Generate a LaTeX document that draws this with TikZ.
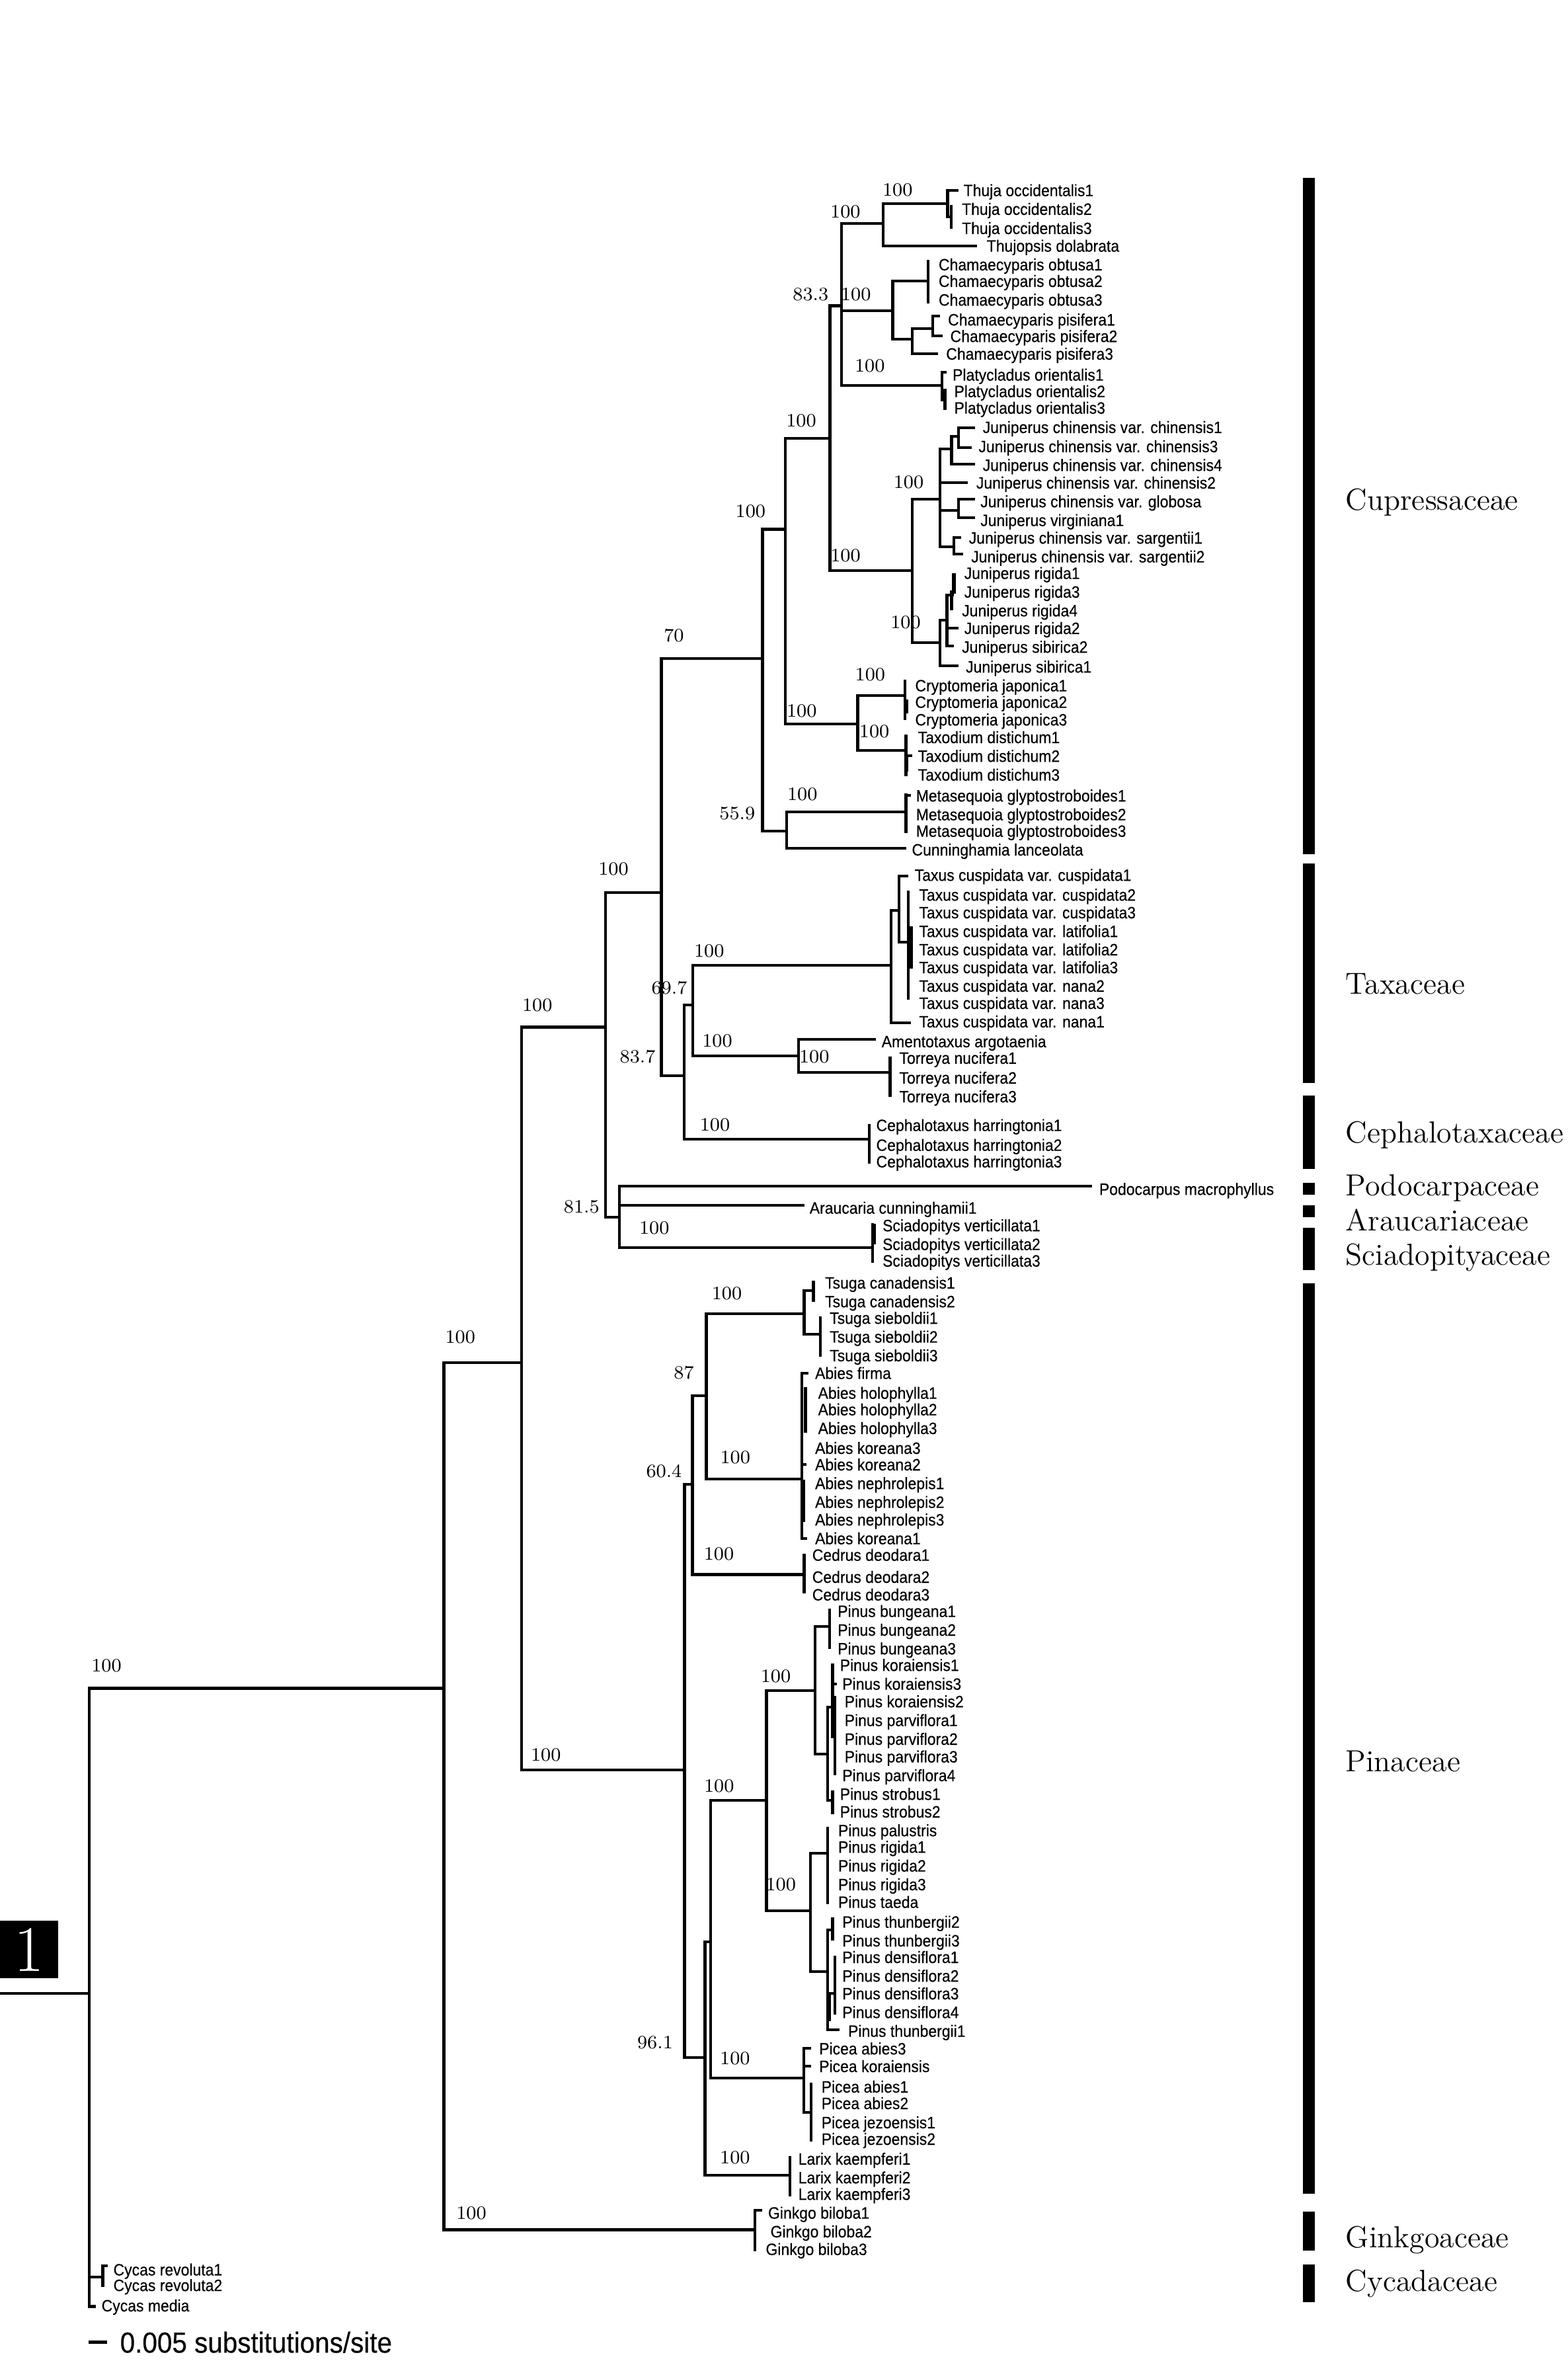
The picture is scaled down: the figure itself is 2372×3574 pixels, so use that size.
\documentclass[tikz,border=0pt]{standalone}
\usepackage{fontspec}
\newfontfamily\taxfont[FakeStretch=0.92,FakeBold=0.3]{Liberation Sans}
\newcommand\tx[3]{\node[taxon] (#1) at (#2) {#3};}
\newcommand\bsl[3]{\node[bs] (#1) at (#2) {#3};}
\begin{document}
\begin{tikzpicture}[x=0.01cm,y=-0.01cm,
  br/.style={line width=1.22pt, line cap=rect},
  thk/.style={line width=1.6pt},
  taxon/.style={anchor=west, inner sep=0pt, font=\taxfont\fontsize{7.1}{8}\selectfont, text height=5.1pt, text depth=0pt},
  bs/.style={inner sep=0pt, font=\fontsize{8.1}{9}\selectfont, text height=5.2pt, text depth=0pt},
  fam/.style={anchor=west, inner sep=0pt, font=\fontsize{13.1}{15}\selectfont, text height=8.9pt, text depth=0pt}]
\fill[white] (0,0) rectangle (2372,3574);
\useasboundingbox (0,0) rectangle (2372,3574);

% ---------- internal coordinates ----------
\coordinate (rootL) at (0,3014.8);
\coordinate (R) at (135.2,3014.8);
\coordinate (N1) at (671.4,2553.6);
\coordinate (CycA) at (155.6,3444.2);
\coordinate (CycM) at (142.9,3488.5);
\coordinate (N2) at (788.8,2060.8);
\coordinate (Gk) at (1142,3372.5);
\coordinate (N3) at (916.3,1553.6);
\coordinate (Pin) at (1035.5,2677);
\coordinate (N4) at (1000.5,1350);
\coordinate (N81) at (936.9,1841);
\coordinate (Cup) at (1153.6,995.7);
\coordinate (TC) at (1034.7,1627);
\coordinate (C1) at (1188.3,800.6);
\coordinate (MC) at (1189.7,1256.7);
\coordinate (C2) at (1255.4,663);
\coordinate (CT) at (1297.5,1095);
\coordinate (C3) at (1273,462.4);
\coordinate (J) at (1379.7,863.3);
\coordinate (TT) at (1335.9,338);
\coordinate (Ch) at (1350.6,470);
\coordinate (Pl) at (1425.3,583.3);
\coordinate (Th) at (1433.4,308.3);
\coordinate (Th1) at (1448.1,287.7);
\coordinate (Th23) at (1439.3,328);
\coordinate (Tjd) at (1476.2,371.7);
\coordinate (ChO) at (1404.2,425);
\coordinate (ChP) at (1379.7,513.3);
\coordinate (ChP12) at (1411.3,496.7);
\coordinate (ChP3) at (1416.6,535);
\coordinate (Jc) at (1421.8,755);
\coordinate (Jr) at (1421.8,971.7);
\coordinate (Jc1) at (1439.4,679.3);
\coordinate (Jc2) at (1462.2,730);
\coordinate (Jc3) at (1449.9,771.7);
\coordinate (Jc4) at (1442.9,826.7);
\coordinate (Jc11) at (1449.9,660);
\coordinate (Jc12) at (1472.7,701.7);
\coordinate (Jc111) at (1472.7,646.7);
\coordinate (Jc112) at (1467.4,676.7);
\coordinate (Jc31) at (1472.7,755);
\coordinate (Jc32) at (1472.7,783.3);
\coordinate (Jc41) at (1451.6,812.7);
\coordinate (Jc42) at (1455,838.3);
\coordinate (Jr1) at (1432.4,938.3);
\coordinate (Jrs1) at (1448.1,1006.7);
\coordinate (Jr134) at (1441,900);
\coordinate (Jr2) at (1448.1,950);
\coordinate (Jrs2) at (1441,976.7);
\coordinate (Cr) at (1369.2,1051.7);
\coordinate (Td) at (1369.2,1135);
\coordinate (Me) at (1370.5,1228.3);
\coordinate (Cu) at (1369.2,1282.7);
\coordinate (TA) at (1048.2,1520);
\coordinate (Ce) at (1315.3,1723.3);
\coordinate (Tx) at (1348.2,1460);
\coordinate (AT) at (1208,1596.7);
\coordinate (Tx1) at (1359.8,1377.3);
\coordinate (TxN1) at (1376.3,1546.7);
\coordinate (TxC1) at (1371.9,1325);
\coordinate (Tx2) at (1374,1425);
\coordinate (Am) at (1322.8,1571.7);
\coordinate (To) at (1346.4,1621.7);
\coordinate (Po) at (1650,1794.3);
\coordinate (Ar) at (1214.5,1823.3);
\coordinate (Sc) at (1319.8,1886.7);
\coordinate (P60) at (1047.5,2245);
\coordinate (PB) at (1066.6,3111.7);
\coordinate (P87) at (1068.6,2110.7);
\coordinate (Cd) at (1216.6,2381.5);
\coordinate (Ts) at (1216.6,1987.3);
\coordinate (Ab) at (1213,2236.7);
\coordinate (TsC) at (1230.6,1951.7);
\coordinate (TsS) at (1241.1,2018.3);
\coordinate (PC) at (1075,2936.7);
\coordinate (Lx) at (1194.7,3290);
\coordinate (Pn) at (1159.6,2723.3);
\coordinate (Pc) at (1215.7,3143.3);
\coordinate (PS) at (1233.2,2556.7);
\coordinate (PP) at (1226.2,2890);
\coordinate (Bu) at (1255.3,2460);
\coordinate (PS2) at (1251.8,2653.3);
\coordinate (KP) at (1259.6,2581.7);
\coordinate (St) at (1259.6,2723.3);
\coordinate (Ri) at (1251.8,2802.7);
\coordinate (PP2) at (1251.8,2981.7);
\coordinate (Tb23) at (1259.6,2919.3);
\coordinate (De) at (1263,3015);
\coordinate (Tb1) at (1268.3,3070);
\coordinate (Pc1) at (1224.5,3098.3);
\coordinate (Pck) at (1224.5,3125);
\coordinate (Pc2) at (1227.3,3195);

% ---------- branches ----------
\draw[br] (rootL) -- (R);
\draw[br] (R) |- (N1); \draw[br] (R) |- (CycA); \draw[br] (R) |- (CycM);
\draw[br] (155.6,3427) -- (155.6,3457); \draw[br] (155.6,3427) -- (160.7,3427);
\draw[br] (N1) |- (N2); \draw[br] (N1) |- (Gk);
\draw[br] (1142,3343.3) -- (1142,3403.3); \draw[br] (1142,3343.3) -- (1150.8,3343.3);
\draw[br] (N2) |- (N3); \draw[br] (N2) |- (Pin);
\draw[br] (N3) |- (N4); \draw[br] (N3) |- (N81);
\draw[br] (N4) |- (Cup); \draw[br] (N4) |- (TC);
\draw[br] (Cup) |- (C1); \draw[br] (Cup) |- (MC);
\draw[br] (C1) |- (C2); \draw[br] (C1) |- (CT);
\draw[br] (C2) |- (C3); \draw[br] (C2) |- (J);
\draw[br] (C3) |- (TT); \draw[br] (C3) |- (Ch); \draw[br] (C3) |- (Pl);
\draw[br] (1425.3,563) -- (1425.3,605); \draw[br] (1429.5,590) -- (1429.5,618); \draw[br] (1425.3,563) -- (1430,563);
\draw[br] (TT) |- (Th); \draw[br] (TT) |- (Tjd);
\draw[br] (Th) |- (Th1); \draw[br] (Th) |- (Th23); \draw[br] (1439.3,311.7) -- (1439.3,344);
\draw[br] (Ch) |- (ChO); \draw[br] (Ch) |- (ChP); \draw[br] (1404.2,395) -- (1404.2,456.7);
\draw[br] (ChP) |- (ChP12); \draw[br] (ChP) |- (ChP3);
\draw[br] (1411.3,478) -- (1411.3,508); \draw[br] (1411.3,478) -- (1420,478); \draw[br] (1411.3,508) -- (1423.6,508);
\draw[br] (J) |- (Jc); \draw[br] (J) |- (Jr);
\draw[br] (Jc) |- (Jc1); \draw[br] (Jc) |- (Jc2); \draw[br] (Jc) |- (Jc3); \draw[br] (Jc) |- (Jc4);
\draw[br] (Jc1) |- (Jc11); \draw[br] (Jc1) |- (Jc12);
\draw[br] (Jc11) |- (Jc111); \draw[br] (Jc11) |- (Jc112);
\draw[br] (Jc3) |- (Jc31); \draw[br] (Jc3) |- (Jc32);
\draw[br] (Jc4) |- (Jc41); \draw[br] (Jc4) |- (Jc42);
\draw[br] (Jr) |- (Jr1); \draw[br] (Jr) |- (Jrs1);
\draw[br] (Jr1) |- (Jr134); \draw[br] (Jr1) |- (Jr2); \draw[br] (Jr1) |- (Jrs2);
\draw[thk] (1442.9,866.7) -- (1442.9,898); \draw[thk] (1439.4,893) -- (1439.4,923.3);
\draw[br] (CT) |- (Cr); \draw[br] (CT) |- (Td);
\draw[br] (1369.2,1030) -- (1369.2,1086.7); \draw[br] (1371.5,1060) -- (1371.5,1077);
\draw[br] (1370.5,1113.3) -- (1370.5,1171.7); \draw[br] (1370.5,1143.3) -- (1377.5,1143.3); \draw[br] (1372,1143) -- (1372,1165);
\draw[br] (MC) |- (Me); \draw[br] (MC) |- (Cu);
\draw[br] (1370.5,1201.7) -- (1370.5,1258.3); \draw[br] (1370.5,1203.3) -- (1375.5,1203.3);
\draw[br] (TC) |- (TA); \draw[br] (TC) |- (Ce); \draw[br] (1315.3,1701.7) -- (1315.3,1758.3);
\draw[br] (TA) |- (Tx); \draw[br] (TA) |- (AT);
\draw[br] (Tx) |- (Tx1); \draw[br] (Tx) |- (TxN1);
\draw[br] (Tx1) |- (TxC1); \draw[br] (Tx1) |- (Tx2);
\draw[br] (1374,1349.3) -- (1374,1510); \draw[br] (1378.6,1403.3) -- (1378.6,1463.3);
\draw[br] (AT) |- (Am); \draw[br] (AT) |- (To); \draw[br] (1346.4,1600) -- (1346.4,1656.7);
\draw[br] (N81) |- (Po); \draw[br] (N81) |- (Ar); \draw[br] (N81) |- (Sc);
\draw[br] (1319.8,1851.7) -- (1319.8,1908.3); \draw[br] (1323,1853) -- (1323,1880);
\draw[br] (Pin) |- (P60); \draw[br] (Pin) |- (PB);
\draw[br] (P60) |- (P87); \draw[br] (P60) |- (Cd); \draw[br] (1216.6,2351.7) -- (1216.6,2408.3);
\draw[br] (P87) |- (Ts); \draw[br] (P87) |- (Ab);
\draw[br] (Ts) |- (TsC); \draw[br] (Ts) |- (TsS);
\draw[br] (1230.6,1939.3) -- (1230.6,1966.7); \draw[br] (1241.1,1993.3) -- (1241.1,2050);
\draw[br] (1213,2076.7) -- (1213,2326.7); \draw[br] (1213,2076.7) -- (1221,2076.7);
\draw[br] (1218.5,2100) -- (1218.5,2165); \draw[br] (1216,2240) -- (1216,2300);
\draw[br] (1213,2215) -- (1218,2215); \draw[br] (1213,2326.7) -- (1219,2326.7);
\draw[br] (PB) |- (PC); \draw[br] (PB) |- (Lx); \draw[br] (1194.7,3263.3) -- (1194.7,3320);
\draw[br] (PC) |- (Pn); \draw[br] (PC) |- (Pc);
\draw[br] (Pn) |- (PS); \draw[br] (Pn) |- (PP);
\draw[br] (PS) |- (Bu); \draw[br] (PS) |- (PS2); \draw[br] (1255.3,2435) -- (1255.3,2491.7);
\draw[br] (PS2) |- (KP); \draw[br] (PS2) |- (St);
\draw[br] (1259.6,2518.3) -- (1259.6,2626.7); \draw[br] (1263,2566.7) -- (1263,2683.3); \draw[br] (1259.6,2546.7) -- (1264,2546.7);
\draw[br] (1259.6,2710) -- (1259.6,2741.7);
\draw[br] (PP) |- (Ri); \draw[br] (PP) |- (PP2); \draw[br] (1251.8,2765) -- (1251.8,2878.3);
\draw[br] (PP2) |- (Tb23); \draw[br] (PP2) |- (De); \draw[br] (PP2) |- (Tb1);
\draw[br] (1259.6,2901.7) -- (1259.6,2933.3); \draw[br] (1263,2960) -- (1263,3045); \draw[br] (1255,3015) -- (1255,3055);
\draw[br] (Pc) |- (Pc1); \draw[br] (Pc) |- (Pck); \draw[br] (Pc) |- (Pc2); \draw[br] (1227.3,3151.7) -- (1227.3,3236.7);

% ---------- bootstrap labels ----------
\bsl{b1}{1357.8,287}{100}
\bsl{b2}{1278.9,320}{100}
\bsl{b3}{1226.3,445}{83.3}
\bsl{b4}{1294.7,445}{100}
\bsl{b5}{1315.7,553.3}{100}
\bsl{b6}{1212,636}{100}
\bsl{b7}{1279,840}{100}
\bsl{b8}{1374.5,729.3}{100}
\bsl{b9}{1370,941.7}{100}
\bsl{b10}{1135.4,773.8}{100}
\bsl{b11}{1019.4,961.3}{70}
\bsl{b12}{1212.8,1075.7}{100}
\bsl{b13}{1316.3,1020}{100}
\bsl{b14}{1322.6,1106}{100}
\bsl{b15}{1213.8,1201.7}{100}
\bsl{b16}{1115.3,1230}{55.9}
\bsl{b17}{928,1314.4}{100}
\bsl{b18}{1072.7,1438.3}{100}
\bsl{b19}{1012.5,1494}{69.7}
\bsl{b20}{1085,1574}{100}
\bsl{b21}{1231.7,1598.3}{100}
\bsl{b22}{964.6,1598.6}{83.7}
\bsl{b23}{1081.5,1701}{100}
\bsl{b24}{879.8,1825.5}{81.5}
\bsl{b25}{989.8,1857.5}{100}
\bsl{b26}{812.8,1520}{100}
\bsl{b27}{1099.5,1956}{100}
\bsl{b28}{1034.5,2076}{87}
\bsl{b29}{1112.2,2204.6}{100}
\bsl{b30}{1004.4,2225.6}{60.4}
\bsl{b31}{1087.5,2350.5}{100}
\bsl{b32}{825.7,2654}{100}
\bsl{b33}{696.2,2022.5}{100}
\bsl{b34}{1173.5,2535}{100}
\bsl{b35}{1087.7,2701}{100}
\bsl{b36}{1181.2,2850}{100}
\bsl{b37}{991,3089}{96.1}
\bsl{b38}{1111.9,3113.3}{100}
\bsl{b39}{1111.9,3263.3}{100}
\bsl{b40}{713,3347.7}{100}
\bsl{b41}{161,2519}{100}

% ---------- taxa ----------
\tx{t1}{1456.9,287.7}{Thuja occidentalis1}
\tx{t2}{1454.4,316}{Thuja occidentalis2}
\tx{t3}{1454.4,345}{Thuja occidentalis3}
\tx{t4}{1492,371.7}{Thujopsis dolabrata}
\tx{t5}{1419.3,400}{Chamaecyparis obtusa1}
\tx{t6}{1419.3,425}{Chamaecyparis obtusa2}
\tx{t7}{1419.3,453.3}{Chamaecyparis obtusa3}
\tx{t8}{1433.4,483.3}{Chamaecyparis pisifera1}
\tx{t9}{1436.9,508.3}{Chamaecyparis pisifera2}
\tx{t10}{1430.6,535}{Chamaecyparis pisifera3}
\tx{t11}{1440.4,566.7}{Platycladus orientalis1}
\tx{t12}{1442.8,591.7}{Platycladus orientalis2}
\tx{t13}{1442.8,616.7}{Platycladus orientalis3}
\tx{t14}{1486,646}{Juniperus chinensis var. chinensis1}
\tx{t15}{1479.7,675}{Juniperus chinensis var. chinensis3}
\tx{t16}{1486,703.3}{Juniperus chinensis var. chinensis4}
\tx{t17}{1476.2,730}{Juniperus chinensis var. chinensis2}
\tx{t18}{1482.5,758.3}{Juniperus chinensis var. globosa}
\tx{t19}{1482.5,786.7}{Juniperus virginiana1}
\tx{t20}{1465,813.3}{Juniperus chinensis var. sargentii1}
\tx{t21}{1468.5,841.7}{Juniperus chinensis var. sargentii2}
\tx{t22}{1458,866.7}{Juniperus rigida1}
\tx{t23}{1458,895}{Juniperus rigida3}
\tx{t24}{1454.5,923.3}{Juniperus rigida4}
\tx{t25}{1458,950}{Juniperus rigida2}
\tx{t26}{1454.5,978.3}{Juniperus sibirica2}
\tx{t27}{1460.4,1008.3}{Juniperus sibirica1}
\tx{t28}{1383.8,1036.7}{Cryptomeria japonica1}
\tx{t29}{1383.8,1061.7}{Cryptomeria japonica2}
\tx{t30}{1383.8,1088.3}{Cryptomeria japonica3}
\tx{t31}{1388,1115}{Taxodium distichum1}
\tx{t32}{1388,1143.3}{Taxodium distichum2}
\tx{t33}{1388,1171.7}{Taxodium distichum3}
\tx{t34}{1385,1203.3}{Metasequoia glyptostroboides1}
\tx{t35}{1385,1231.7}{Metasequoia glyptostroboides2}
\tx{t36}{1385,1256.7}{Metasequoia glyptostroboides3}
\tx{t37}{1378.8,1285}{Cunninghamia lanceolata}
\tx{t38}{1383,1323.3}{Taxus cuspidata var. cuspidata1}
\tx{t39}{1389.7,1353.3}{Taxus cuspidata var. cuspidata2}
\tx{t40}{1389.7,1380}{Taxus cuspidata var. cuspidata3}
\tx{t41}{1389.7,1408.3}{Taxus cuspidata var. latifolia1}
\tx{t42}{1389.7,1436}{Taxus cuspidata var. latifolia2}
\tx{t43}{1389.7,1463}{Taxus cuspidata var. latifolia3}
\tx{t44}{1389.7,1491}{Taxus cuspidata var. nana2}
\tx{t45}{1389.7,1517}{Taxus cuspidata var. nana3}
\tx{t46}{1389.7,1545}{Taxus cuspidata var. nana1}
\tx{t47}{1333,1575}{Amentotaxus argotaenia}
\tx{t48}{1359.8,1600}{Torreya nucifera1}
\tx{t49}{1359.8,1630}{Torreya nucifera2}
\tx{t50}{1359.8,1658.3}{Torreya nucifera3}
\tx{t51}{1324.9,1701.7}{Cephalotaxus harringtonia1}
\tx{t52}{1324.9,1731.7}{Cephalotaxus harringtonia2}
\tx{t53}{1324.9,1756.7}{Cephalotaxus harringtonia3}
\tx{t54}{1662.2,1798.3}{Podocarpus macrophyllus}
\tx{t55}{1224.1,1826.7}{Araucaria cunninghamii1}
\tx{t56}{1334.4,1853.3}{Sciadopitys verticillata1}
\tx{t57}{1334.4,1881.7}{Sciadopitys verticillata2}
\tx{t58}{1334.4,1906.7}{Sciadopitys verticillata3}
\tx{t59}{1247.4,1940}{Tsuga canadensis1}
\tx{t60}{1247.4,1968.3}{Tsuga canadensis2}
\tx{t61}{1254.5,1993.3}{Tsuga sieboldii1}
\tx{t62}{1254.5,2021.7}{Tsuga sieboldii2}
\tx{t63}{1254.5,2050}{Tsuga sieboldii3}
\tx{t64}{1232.4,2076.7}{Abies firma}
\tx{t65}{1236.9,2106.7}{Abies holophylla1}
\tx{t66}{1236.9,2131.7}{Abies holophylla2}
\tx{t67}{1236.9,2160}{Abies holophylla3}
\tx{t68}{1232.4,2190}{Abies koreana3}
\tx{t69}{1232.4,2215}{Abies koreana2}
\tx{t70}{1232.4,2243.3}{Abies nephrolepis1}
\tx{t71}{1232.4,2271.7}{Abies nephrolepis2}
\tx{t72}{1232.4,2298.3}{Abies nephrolepis3}
\tx{t73}{1232.4,2326.7}{Abies koreana1}
\tx{t74}{1228.1,2351.7}{Cedrus deodara1}
\tx{t75}{1228.1,2385}{Cedrus deodara2}
\tx{t76}{1228.1,2411.7}{Cedrus deodara3}
\tx{t77}{1266.6,2436.7}{Pinus bungeana1}
\tx{t78}{1266.6,2465}{Pinus bungeana2}
\tx{t79}{1266.6,2493.3}{Pinus bungeana3}
\tx{t80}{1270,2518.3}{Pinus koraiensis1}
\tx{t81}{1273.6,2546.7}{Pinus koraiensis3}
\tx{t82}{1277,2573.3}{Pinus koraiensis2}
\tx{t83}{1277,2601.7}{Pinus parviflora1}
\tx{t84}{1277,2630}{Pinus parviflora2}
\tx{t85}{1277,2656.7}{Pinus parviflora3}
\tx{t86}{1273.6,2685}{Pinus parviflora4}
\tx{t87}{1270,2713.3}{Pinus strobus1}
\tx{t88}{1270,2740}{Pinus strobus2}
\tx{t89}{1267.3,2768.3}{Pinus palustris}
\tx{t90}{1267.3,2793.3}{Pinus rigida1}
\tx{t91}{1267.3,2821.7}{Pinus rigida2}
\tx{t92}{1267.3,2850}{Pinus rigida3}
\tx{t93}{1267.3,2876.7}{Pinus taeda}
\tx{t94}{1273.6,2906.7}{Pinus thunbergii2}
\tx{t95}{1273.6,2935}{Pinus thunbergii3}
\tx{t96}{1273.6,2960}{Pinus densiflora1}
\tx{t97}{1273.6,2988.3}{Pinus densiflora2}
\tx{t98}{1273.6,3015}{Pinus densiflora3}
\tx{t99}{1273.6,3043.3}{Pinus densiflora4}
\tx{t100}{1282.4,3071.7}{Pinus thunbergii1}
\tx{t101}{1238.5,3098.3}{Picea abies3}
\tx{t102}{1238.5,3125}{Picea koraiensis}
\tx{t103}{1242,3156}{Picea abies1}
\tx{t104}{1242,3181}{Picea abies2}
\tx{t105}{1242,3210}{Picea jezoensis1}
\tx{t106}{1242,3235}{Picea jezoensis2}
\tx{t107}{1207,3265}{Larix kaempferi1}
\tx{t108}{1207,3293.3}{Larix kaempferi2}
\tx{t109}{1207,3318.3}{Larix kaempferi3}
\tx{t110}{1161.3,3346.7}{Ginkgo biloba1}
\tx{t111}{1164.9,3375}{Ginkgo biloba2}
\tx{t112}{1157.8,3401.7}{Ginkgo biloba3}
\tx{t113}{170.9,3432.6}{Cycas revoluta1}
\tx{t114}{170.9,3456.2}{Cycas revoluta2}
\tx{t115}{153,3487}{Cycas media}

% ---------- family bars and names ----------
\fill (1971,269) rectangle (1989,1292);
\fill (1971,1306) rectangle (1989,1638);
\fill (1971,1657) rectangle (1989,1768);
\fill (1971,1789) rectangle (1989,1807);
\fill (1971,1823) rectangle (1989,1841);
\fill (1971,1857) rectangle (1989,1921);
\fill (1971,1941) rectangle (1989,3318);
\fill (1971,3345) rectangle (1989,3404);
\fill (1971,3425) rectangle (1989,3482);
\node[fam] (f1) at (2035,756) {Cupressaceae};
\node[fam] (f2) at (2035,1488) {Taxaceae};
\node[fam] (f3) at (2035,1713) {Cephalotaxaceae};
\node[fam] (f4) at (2035,1793) {Podocarpaceae};
\node[fam] (f5) at (2035,1846) {Araucariaceae};
\node[fam] (f6) at (2035,1898) {Sciadopityaceae};
\node[fam] (f7) at (2035,2664) {Pinaceae};
\node[fam] (f8) at (2035,3384) {Ginkgoaceae};
\node[fam] (f9) at (2035,3450) {Cycadaceae};

% ---------- box "1" and scale bar ----------
\node[fill=black, text=white, inner sep=0pt, minimum width=0.878cm, minimum height=0.868cm,
  font=\fontsize{28}{30}\selectfont] (box1) at (43.9,2948.8) {1};
\coordinate (sbL) at (133.7,3542.5);
\coordinate (sbR) at (162.2,3542.5);
\draw[line width=1.2pt] (sbL) -- (sbR);
\node[anchor=west, inner sep=0pt, font=\taxfont\fontsize{12.5}{14}\selectfont, text height=9pt, text depth=0pt] (scale) at (181,3542.5) {0.005 substitutions/site};
\end{tikzpicture}
\end{document}
